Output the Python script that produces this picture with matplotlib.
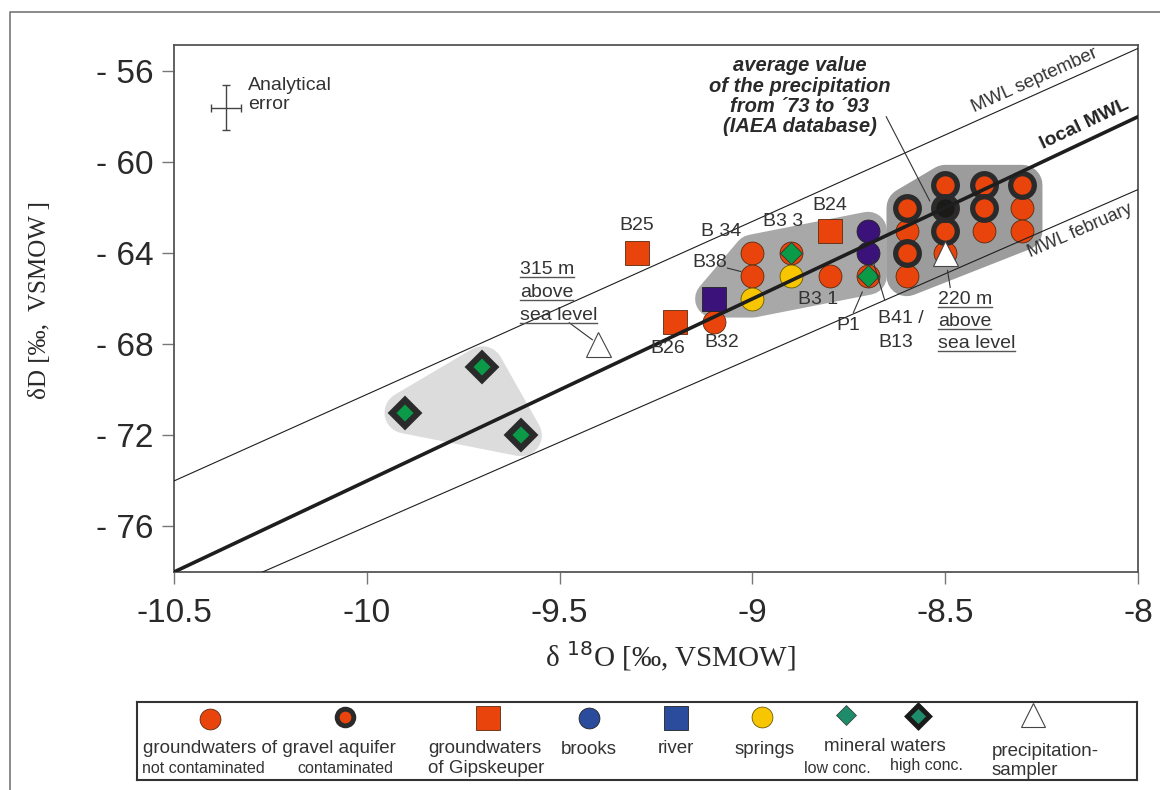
import numpy as np
import matplotlib
matplotlib.use("Agg")
import matplotlib.pyplot as plt
from matplotlib.patches import Polygon
from matplotlib.lines import Line2D

plt.rcParams["font.family"] = ["Liberation Sans", "DejaVu Sans"]

# --- data (delta 18O, delta D) ---
gw_clean_x = [-9.1, -9.0, -9.0, -8.9, -8.8, -8.7, -8.6, -8.6, -8.5, -8.4, -8.3, -8.3]
gw_clean_y = [-67, -64, -65, -64, -65, -65, -63, -65, -64, -63, -62, -63]
gw_cont_x = [-8.6, -8.6, -8.5, -8.5, -8.4, -8.4, -8.3]
gw_cont_y = [-62, -64, -61, -63, -61, -62, -61]
gips_x = [-9.3, -9.2, -8.8]
gips_y = [-64, -67, -63]
brooks_x = [-8.7, -8.7]
brooks_y = [-63, -64]
river_x = [-9.1]
river_y = [-66]
springs_x = [-9.0, -8.9]
springs_y = [-66, -65]
min_low_x = [-8.9, -8.7]
min_low_y = [-64, -65]
min_high_x = [-9.9, -9.7, -9.6]
min_high_y = [-71, -69, -72]
precip_x = [-9.4, -8.5]
precip_y = [-68, -64]
iaea_x = [-8.5]
iaea_y = [-62]

# meteoric water lines: slope, intercept
mwl_local = (8.0, 6.0)
mwl_sep = (7.6, 5.8)
mwl_feb = (7.4, -2.0)

err_x, err_y = [-10.365], [-57.6]
err_dx, err_dy = 0.04, 1.0

# sample labels: text, x, y
sample_labels = [
    ("B25", -9.30, -62.8), ("B26", -9.22, -68.2), ("B32", -9.08, -67.9),
    ("B 34", -9.08, -63.05), ("B3 3", -8.92, -62.6), ("B24", -8.80, -61.9),
    ("B3 1", -8.83, -66.05), ("P1", -8.75, -67.15),
]

ORANGE = "#e8440c"
DARK = "#2a2a2a"
PURPLE = "#3a127a"
YELLOW = "#f7c600"
GREEN = "#0a9a48"
TXT = "#333333"

fig = plt.figure(figsize=(11.6, 7.9), dpi=100)
ax = fig.add_axes([174 / 1160, 1 - 572 / 790, 964 / 1160, 527 / 790])
ax.set_xlim(-10.5, -8.0)
ax.set_ylim(-78.0, -54.85)


def hull(px, py):
    pts = sorted(set(zip(px, py)))
    if len(pts) < 3:
        return pts
    def cross(o, a, b):
        return (a[0] - o[0]) * (b[1] - o[1]) - (a[1] - o[1]) * (b[0] - o[0])
    lower, upper = [], []
    for p in pts:
        while len(lower) >= 2 and cross(lower[-2], lower[-1], p) <= 0:
            lower.pop()
        lower.append(p)
    for p in reversed(pts):
        while len(upper) >= 2 and cross(upper[-2], upper[-1], p) <= 0:
            upper.pop()
        upper.append(p)
    return lower[:-1] + upper[:-1]


def blob(px, py, color, lw):
    poly = Polygon(hull(px, py), closed=True, facecolor=color, edgecolor=color,
                   lw=lw, joinstyle="round", zorder=1)
    ax.add_patch(poly)


# grey groupings
blob(min_high_x, min_high_y, "#dcdcdc", 30)
all_x = np.array(gw_clean_x + gw_cont_x + brooks_x + river_x + springs_x + iaea_x)
all_y = np.array(gw_clean_y + gw_cont_y + brooks_y + river_y + springs_y + iaea_y)
mid = (all_x <= -8.65) & (all_y >= -66)
blob(all_x[mid], all_y[mid], "#a8a8a8", 27)
right = all_x >= -8.65
blob(all_x[right], all_y[right], "#9c9c9c", 29)

# points
ax.plot(gw_clean_x, gw_clean_y, "o", ms=16.5, mfc=ORANGE, mec="#5a2a10", mew=0.6, zorder=3)
ax.plot(gw_cont_x, gw_cont_y, "o", ms=17, mfc=ORANGE, mec=DARK, mew=3.8, zorder=3)
ax.plot(iaea_x, iaea_y, "o", ms=17, mfc="#1c1a18", mec=DARK, mew=3.8, zorder=3)
ax.plot(gips_x, gips_y, "s", ms=17, mfc=ORANGE, mec="#5a2a10", mew=0.6, zorder=3)
ax.plot(brooks_x, brooks_y, "o", ms=16.5, mfc=PURPLE, mec="#222", mew=0.6, zorder=3)
ax.plot(river_x, river_y, "s", ms=17, mfc=PURPLE, mec="#222", mew=0.6, zorder=3)
ax.plot(springs_x, springs_y, "o", ms=16.5, mfc=YELLOW, mec="#6a5a00", mew=0.6, zorder=3)
ax.plot(min_low_x, min_low_y, "D", ms=11.5, mfc=GREEN, mec="#333", mew=0.6, zorder=4)
ax.plot(min_high_x, min_high_y, "D", ms=13, mfc=GREEN, mec=DARK, mew=4.5, zorder=4)
ax.plot(precip_x, precip_y, "^", ms=18, mfc="white", mec="#444", mew=0.8, zorder=4)

# water lines
xl = np.array([-10.6, -7.9])
for (s, b), lw in [(mwl_local, 2.6), (mwl_sep, 0.8), (mwl_feb, 0.8)]:
    ax.plot(xl, s * xl + b, color="#1e1e1e", lw=lw, zorder=5, solid_capstyle="butt")


def ang(s):
    return np.degrees(np.arctan(s))


ax.text(-8.26, mwl_sep[0] * -8.26 + mwl_sep[1] + 0.25, "MWL september", rotation=ang(mwl_sep[0]),
        transform_rotates_text=True, rotation_mode="anchor", ha="center", va="bottom",
        fontsize=13.5, color=TXT, zorder=6)
ax.text(-8.13, mwl_local[0] * -8.13 + mwl_local[1] + 0.35, "local MWL", rotation=ang(mwl_local[0]),
        transform_rotates_text=True, rotation_mode="anchor", ha="center", va="bottom",
        fontsize=14, fontweight="bold", color="#222", zorder=6)
ax.text(-8.16, mwl_feb[0] * -8.16 + mwl_feb[1] - 0.3, "MWL february", rotation=ang(mwl_feb[0]),
        transform_rotates_text=True, rotation_mode="anchor", ha="center", va="top",
        fontsize=13, color=TXT, zorder=6)

# analytical error
ax.errorbar(err_x, err_y, xerr=err_dx, yerr=err_dy, fmt="none", ecolor="#444",
            elinewidth=1, capsize=3, capthick=1, zorder=6)
ax.text(-10.308, -57.05, "Analytical\nerror", ha="left", va="center", fontsize=14,
        color=TXT, linespacing=1.2)

# sample labels
for lab, x, y in sample_labels:
    ax.text(x, y, lab, ha="center", va="center", fontsize=14, color=TXT, zorder=7)
ax.text(-9.11, -64.4, "B38", ha="center", va="center", fontsize=14, color=TXT, zorder=7)
ax.plot([-9.065, -9.03], [-64.65, -64.8], color="#333", lw=0.8, zorder=7)
ax.plot([-8.738, -8.715], [-66.6, -65.7], color="#333", lw=0.8, zorder=7)
ax.text(-8.674, -66.85, "B41 /", ha="left", va="center", fontsize=14, color=TXT, zorder=7)
ax.text(-8.674, -67.9, "B13", ha="left", va="center", fontsize=14, color=TXT, zorder=7)
ax.plot([-8.688, -8.657], [-64.3, -66.05], color="#333", lw=0.8, zorder=7)

alt_texts = []
for i, s in enumerate(["315 m", "above", "sea level"]):
    alt_texts.append(ax.text(-9.603, -64.73 - 1.0 * i, s, ha="left", va="center",
                             fontsize=14, color=TXT, zorder=7))
ax.plot([-9.475, -9.415], [-67.05, -67.8], color="#333", lw=0.8, zorder=7)
for i, s in enumerate(["220 m", "above", "sea level"]):
    alt_texts.append(ax.text(-8.519, -66.04 - 0.97 * i, s, ha="left", va="center",
                             fontsize=14, color=TXT, zorder=7))
ax.plot([-8.494, -8.487], [-64.75, -65.5], color="#333", lw=0.8, zorder=7)

ax.text(-8.877, -57.1, "average value\nof the precipitation\nfrom \u00b473 to \u00b493\n(IAEA database)",
        ha="center", va="center", fontsize=14.5, fontweight="bold", fontstyle="italic",
        color="#2a2a2a", linespacing=1.08, zorder=7)
ax.plot([-8.653, -8.54], [-58.0, -61.7], color="#333", lw=0.8, zorder=7)

# axes styling
for sp in ax.spines.values():
    sp.set_color("#555")
    sp.set_linewidth(1.3)
ax.set_xticks([-10.5, -10, -9.5, -9, -8.5, -8])
ax.set_xticklabels(["-10.5", "-10", "-9.5", "-9", "-8.5", "-8"])
ax.set_yticks([-56, -60, -64, -68, -72, -76])
ax.set_yticklabels(["- 56", "- 60", "- 64", "- 68", "- 72", "- 76"])
ax.tick_params(axis="both", direction="out", length=8.5, width=1, color="#777",
               labelsize=24, labelcolor="#2a2a2a")
ax.tick_params(axis="x", pad=10)
ax.tick_params(axis="y", pad=6)

serif = ["Liberation Serif", "DejaVu Serif"]
fig.text(0.578, 0.168, "δ $^{18}$O [‰, VSMOW]", ha="center", va="center",
         fontsize=21, family=serif, color="#2a2a2a")
fig.text(0.0345, 0.62, "δD [‰,  VSMOW ]", ha="center", va="center", rotation=90,
         fontsize=18, family=serif, color="#2a2a2a")

# outer frame
fig.add_artist(Line2D([10 / 1160, 10 / 1160, 1.0], [0.0, 1 - 12 / 790, 1 - 12 / 790],
                      color="#777", lw=1.2, transform=fig.transFigure))

# legend box
lax = fig.add_axes([137 / 1160, 10 / 790, 1000 / 1160, 78 / 790])
lax.set_xlim(0, 1)
lax.set_ylim(0, 1)
lax.set_xticks([])
lax.set_yticks([])
for sp in lax.spines.values():
    sp.set_color("#333")
    sp.set_linewidth(1.5)

LBLUE = "#2b4c9c"
LGREEN = "#1e8c6a"
lax.plot([0.073], [0.78], "o", ms=15, mfc=ORANGE, mec="#5a2a10", mew=0.6)
lax.plot([0.208], [0.81], "o", ms=12, mfc=ORANGE, mec=DARK, mew=3.5)
lax.plot([0.351], [0.795], "s", ms=17, mfc=ORANGE, mec="#5a2a10", mew=0.6)
lax.plot([0.452], [0.795], "o", ms=15, mfc=LBLUE, mec="#222", mew=0.6)
lax.plot([0.539], [0.795], "s", ms=17, mfc=LBLUE, mec="#222", mew=0.6)
lax.plot([0.625], [0.81], "o", ms=15, mfc=YELLOW, mec="#6a5a00", mew=0.6)
lax.plot([0.709], [0.833], "D", ms=10.5, mfc=LGREEN, mec="#333", mew=0.5)
lax.plot([0.781], [0.82], "D", ms=11, mfc=LGREEN, mec="#1a1a1a", mew=3.5)
lax.plot([0.896], [0.833], "^", ms=17, mfc="white", mec="#444", mew=0.8)

lfs, sfs = 13.5, 11.5
lax.text(0.006, 0.41, "groundwaters of gravel aquifer", ha="left", va="center", fontsize=lfs, color=TXT)
lax.text(0.005, 0.15, "not contaminated", ha="left", va="center", fontsize=sfs, color=TXT)
lax.text(0.208, 0.15, "contaminated", ha="center", va="center", fontsize=sfs, color=TXT)
lax.text(0.291, 0.41, "groundwaters", ha="left", va="center", fontsize=lfs, color=TXT)
lax.text(0.291, 0.15, "of Gipskeuper", ha="left", va="center", fontsize=lfs, color=TXT)
lax.text(0.452, 0.385, "brooks", ha="center", va="center", fontsize=lfs, color=TXT)
lax.text(0.539, 0.41, "river", ha="center", va="center", fontsize=lfs, color=TXT)
lax.text(0.628, 0.385, "springs", ha="center", va="center", fontsize=lfs, color=TXT)
lax.text(0.748, 0.43, "mineral waters", ha="center", va="center", fontsize=lfs, color=TXT)
lax.text(0.70, 0.15, "low conc.", ha="center", va="center", fontsize=sfs, color=TXT)
lax.text(0.789, 0.19, "high conc.", ha="center", va="center", fontsize=sfs, color=TXT)
lax.text(0.855, 0.36, "precipitation-", ha="left", va="center", fontsize=lfs, color=TXT)
lax.text(0.855, 0.125, "sampler", ha="left", va="center", fontsize=lfs, color=TXT)

# underline altitude notes
fig.canvas.draw()
rend = fig.canvas.get_renderer()
inv = fig.transFigure.inverted()
for t in alt_texts:
    bb = t.get_window_extent(rend)
    (x0, y0), (x1, _) = inv.transform([[bb.x0, bb.y0 + 1], [bb.x1, bb.y0 + 1]])
    fig.add_artist(Line2D([x0, x1], [y0, y0], color="#555", lw=1.0, transform=fig.transFigure))

fig.savefig("out.png", dpi=100)
